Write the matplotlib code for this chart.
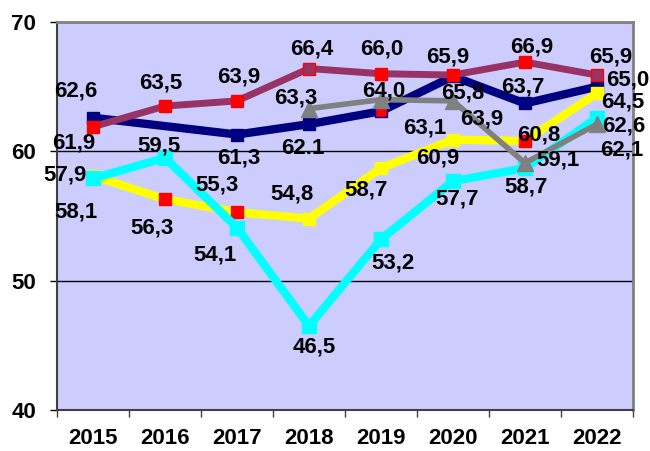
import numpy as np
import matplotlib.pyplot as plt

plt.rcParams['font.family'] = ['Liberation Sans', 'DejaVu Sans']
plt.rcParams['font.weight'] = 'bold'

years = ["2015", "2016", "2017", "2018", "2019", "2020", "2021", "2022"]

maroon_vals = [61.9, 63.5, 63.9, 66.4, 66.0, 65.9, 66.9, 65.9]
navy_vals = [62.6, np.nan, 61.3, 62.1, 63.1, 65.8, 63.7, 65.0]
yellow_vals = [58.1, 56.3, 55.3, 54.8, 58.7, 60.9, 60.8, 64.5]
cyan_vals = [57.9, 59.5, 54.1, 46.5, 53.2, 57.7, 58.7, 62.6]
gray_vals = [np.nan, np.nan, np.nan, 63.3, 64.0, 63.9, 59.1, 62.1]

navy_labels = ["62,6", "", "61,3", "62.1", "63,1", "65,8", "63,7", "65,0"]

# marker colours per point
maroon_face = ["red", "red", "red", "#993366", "red", "red", "red", "#993366"]
navy_face = ["#000080", "#000080", "#000080", "#000080", "red", "#000080", "#000080", "#000080"]
yellow_face = ["yellow", "red", "red", "yellow", "yellow", "yellow", "red", "yellow"]

# label offsets in pixels (dx, dy), dy upward
maroon_off = [(-19, -16), (-4, 23), (2, 24), (3, 20), (1, 25), (-5, 18), (7, 15), (14, 18)]
navy_off = [(-17, 27), None, (2, -23), (-6, -24), (44, -17), (10, -17), (-2, 16), (31, 7)]
yellow_off = [(-17, -36), (-13, -29), (-20, 27), (-17, 25), (-15, -22), (-15, -18), (14, 6), (26, -9)]
cyan_off = [(-28, 3), (-6, 12), (-22, -27), (5, -21), (12, -24), (4, -18), (1, -19), (27, -8)]
gray_off = [None, None, None, (-13, 11), (3, 9), (29, -18), (33, 3), (25, -26)]

fig = plt.figure(figsize=(6.5, 4.51), dpi=100)
ax = fig.add_axes([57 / 650, 1 - 410 / 451, 576 / 650, 388 / 451])
ax.set_facecolor("#CCCCFF")

x = np.arange(len(years))


def draw(vals, color, lw, marker, faces, edges, ms, z):
    v = np.array(vals, dtype=float)
    ok = ~np.isnan(v)
    ax.plot(x[ok], v[ok], color=color, lw=lw, zorder=z, solid_joinstyle="miter")
    for i in np.where(ok)[0]:
        ax.plot(x[i], v[i], marker=marker, ms=ms, mfc=faces[i], mec=edges[i],
                mew=1, ls="none", zorder=z + 0.5)


def labels(vals, offs, texts=None):
    for i, v in enumerate(vals):
        if offs[i] is None or np.isnan(v):
            continue
        t = texts[i] if texts else f"{v:.1f}".replace(".", ",")
        ax.annotate(t, (x[i], v), xytext=offs[i], textcoords="offset pixels",
                    ha="center", va="center", fontsize=16, fontweight="bold",
                    color="black", zorder=20)


draw(navy_vals, "#000080", 6, "s", navy_face, ["#000080"] * 8, 9, 3)
draw(yellow_vals, "yellow", 6, "s", yellow_face, yellow_face, 9, 4)
draw(cyan_vals, "cyan", 6, "s", ["cyan"] * 8, ["cyan"] * 8, 9.5, 5)
draw(gray_vals, "gray", 4, "^", ["gray"] * 8, ["gray"] * 8, 12, 6)
draw(maroon_vals, "#993366", 5, "s", maroon_face, ["red"] * 8, 9, 7)

labels(maroon_vals, maroon_off)
labels(navy_vals, navy_off, navy_labels)
labels(yellow_vals, yellow_off)
labels(cyan_vals, cyan_off)
labels(gray_vals, gray_off)

ax.set_xlim(-0.5, 7.5)
ax.set_ylim(40, 70)
ax.set_yticks([40, 50, 60, 70])
ax.tick_params(axis="y", length=5, width=1, pad=10, labelsize=16)
ax.set_xticks(x)
ax.set_xticklabels(years)
ax.set_xticks(np.arange(-0.5, 8, 1), minor=True)
ax.tick_params(axis="x", which="major", length=0, pad=13, labelsize=16)
ax.tick_params(axis="x", which="minor", length=5, width=1, color="#404040")
ax.grid(axis="y", color="black", lw=1)
ax.set_axisbelow(True)

for s in ["top", "right"]:
    ax.spines[s].set_color("#808080")
    ax.spines[s].set_linewidth(2)
ax.spines["left"].set_color("#404040")
ax.spines["bottom"].set_color("#404040")
ax.spines["left"].set_linewidth(1.5)
ax.spines["bottom"].set_linewidth(1.5)

fig.savefig("out.png", dpi=100)
